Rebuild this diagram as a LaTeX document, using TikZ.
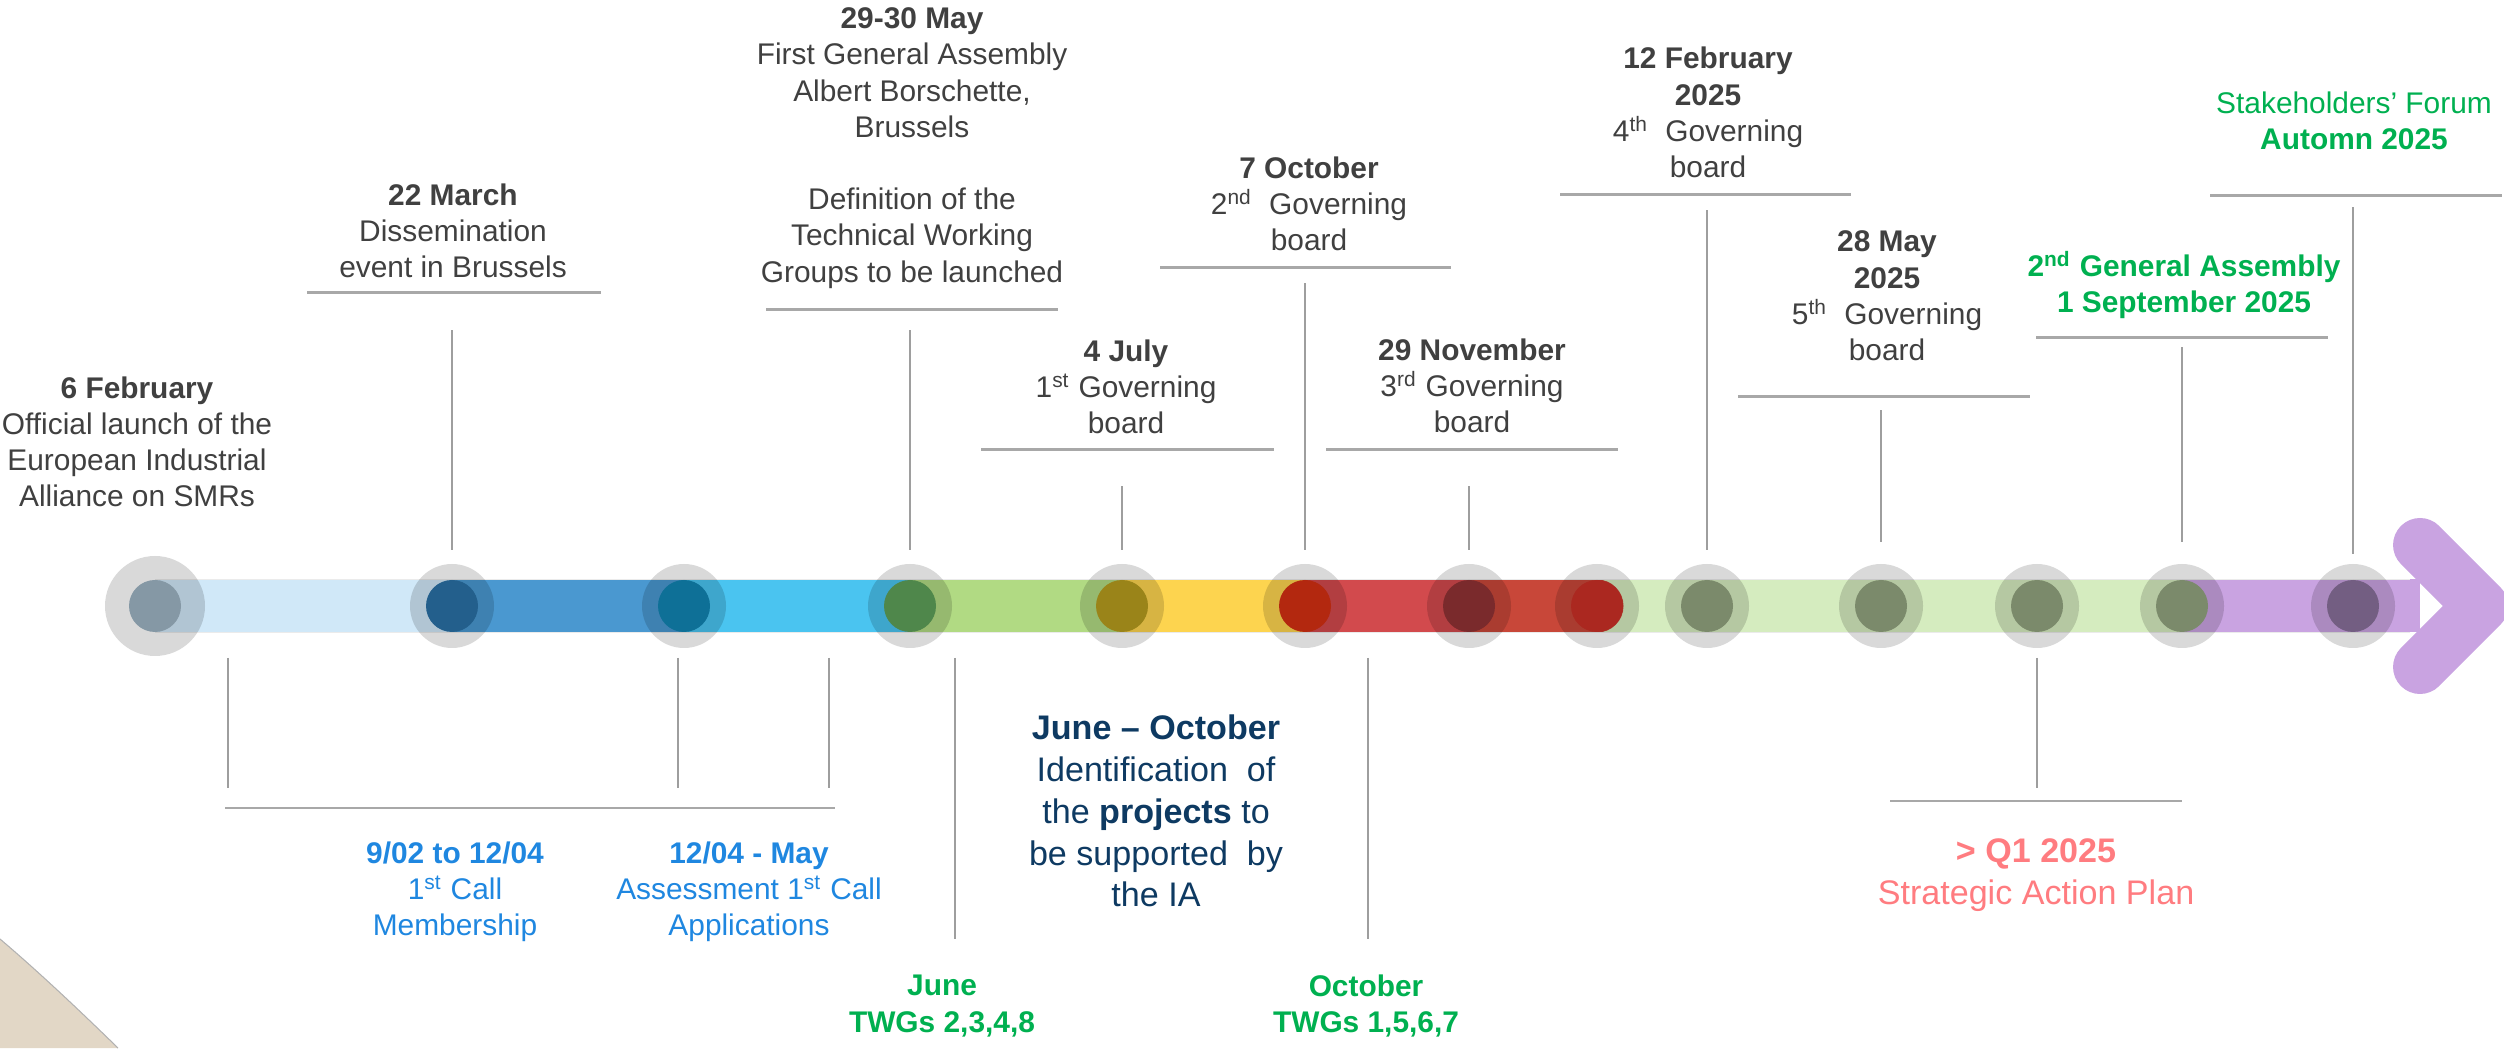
\documentclass[tikz,border=0pt]{standalone}
\usepackage{fontspec}
\setmainfont{Liberation Sans}
\definecolor{txtgray}{HTML}{404040}
\definecolor{rulegray}{HTML}{A8A8A8}
\definecolor{stemgray}{HTML}{9E9E9E}
\definecolor{tlblue}{HTML}{1F87E0}
\definecolor{tlgreen}{HTML}{00B050}
\definecolor{tlnavy}{HTML}{0E3A62}
\definecolor{tlsalmon}{HTML}{FF7C80}
\definecolor{beige}{HTML}{E2D7C6}
\definecolor{bandA}{HTML}{D0E8F8}
\definecolor{bandB}{HTML}{4A98D0}
\definecolor{bandC}{HTML}{4AC4F0}
\definecolor{bandD}{HTML}{B1DA83}
\definecolor{bandE}{HTML}{FDD44F}
\definecolor{bandF}{HTML}{D24A4D}
\definecolor{bandG}{HTML}{C84739}
\definecolor{bandH}{HTML}{D5ECBF}
\definecolor{bandI}{HTML}{C9A3E1}
\definecolor{dotA}{HTML}{8598A5}
\definecolor{dotB}{HTML}{235F8C}
\definecolor{dotC}{HTML}{0E7097}
\definecolor{dotD}{HTML}{4F874B}
\definecolor{dotE}{HTML}{9A8419}
\definecolor{dotF}{HTML}{B3280F}
\definecolor{dotG}{HTML}{7A2A2C}
\definecolor{dotH}{HTML}{AB2820}
\definecolor{dotI}{HTML}{7B8A6B}
\definecolor{dotJ}{HTML}{735E82}
\begin{document}
\begin{tikzpicture}[
  lbl/.style={align=center, inner sep=0pt, text=txtgray, font=\fontsize{8.5}{10.3}\selectfont},
  big/.style={lbl, font=\fontsize{9.7}{11.9}\selectfont},
  uline/.style={draw=rulegray, line width=0.85pt},
  stem/.style={draw=stemgray, line width=0.55pt},
  ring/.style={circle, fill=black, fill opacity=0.15, inner sep=0pt},
]
\useasboundingbox (0,0) rectangle (25.04,10.48);

% corner
\fill[beige] (0,1.09) .. controls (0.4,0.75) and (0.8,0.37) .. (1.18,0) -- (0,0) -- cycle;
\draw[black!30, line width=0.3pt] (0,1.09) .. controls (0.4,0.75) and (0.8,0.37) .. (1.18,0);

% band
\fill[bandA] (1.55,4.155) rectangle (4.52,4.685);
\fill[bandB] (4.52,4.155) rectangle (6.84,4.685);
\fill[bandC] (6.84,4.155) rectangle (9.10,4.685);
\fill[bandD] (9.10,4.155) rectangle (11.22,4.685);
\fill[bandE] (11.22,4.155) rectangle (13.05,4.685);
\fill[bandF] (13.05,4.155) rectangle (14.69,4.685);
\fill[bandH] (15.97,4.155) rectangle (21.82,4.685);
\fill[bandG] (14.69,4.155) -- (15.97,4.155) arc (-90:90:0.265) -- (14.69,4.685) -- cycle;
\fill[bandI] (21.82,4.155) rectangle (24.20,4.685);
\draw[bandI, line width=0.54cm, line cap=round, line join=round] (24.20,5.03) -- (24.81,4.42) -- (24.20,3.81);
\draw[black!8, line width=0.4pt] (1.55,4.685) -- (24.10,4.685) (1.55,4.155) -- (24.10,4.155);

% milestones
\foreach \x/\r/\c [count=\i] in {1.55/1.0cm/dotA, 4.52/0.84cm/dotB, 6.84/0.84cm/dotC,
    9.10/0.84cm/dotD, 11.22/0.84cm/dotE, 13.05/0.84cm/dotF, 14.69/0.84cm/dotG,
    15.97/0.84cm/dotH, 17.07/0.84cm/dotI, 18.81/0.84cm/dotI, 20.37/0.84cm/dotI,
    21.82/0.84cm/dotI, 23.53/0.84cm/dotJ}
{
  \node[ring, minimum size=\r] (m\i) at (\x,4.42) {};
  \fill[\c] (m\i.center) circle (0.26);
}

% above the band
\node[lbl] (e1) at (1.37,6.06) {\textbf{6 February}\\Official launch of the\\European Industrial\\Alliance on SMRs};

\node[lbl] (e2) at (4.53,8.17) {\textbf{22 March}\\Dissemination\\event in Brussels};
\draw[uline] (3.07,7.55) -- (6.01,7.55);
\draw[stem] ([yshift=5.6mm]m2.center) -- +(0,2.20);

\node[lbl] (e4) at (9.12,9.00) {\textbf{29-30 May}\\First General Assembly\\Albert Borschette,\\Brussels\\[10.3pt]Definition of the\\Technical Working\\Groups to be launched};
\draw[uline] (7.66,7.38) -- (10.58,7.38);
\draw[stem] ([yshift=5.6mm]m4.center) -- +(0,2.20);

\node[lbl] (e5) at (11.26,6.61) {\textbf{4 July}\\1\textsuperscript{st} Governing\\board};
\draw[uline] (9.81,5.98) -- (12.74,5.98);
\draw[stem] ([yshift=5.6mm]m5.center) -- +(0,0.64);

\node[lbl] (e6) at (13.09,8.44) {\textbf{7 October}\\2\textsuperscript{nd}~ Governing\\board};
\draw[uline] (11.60,7.80) -- (14.51,7.80);
\draw[stem] ([yshift=5.6mm]m6.center) -- +(0,2.67);

\node[lbl] (e7) at (14.72,6.62) {\textbf{29 November}\\3\textsuperscript{rd} Governing\\board};
\draw[uline] (13.26,5.98) -- (16.18,5.98);
\draw[stem] ([yshift=5.6mm]m7.center) -- +(0,0.64);

\node[lbl] (e9) at (17.08,9.355) {\textbf{12 February}\\\textbf{2025}\\4\textsuperscript{th}~ Governing\\board};
\draw[uline] (15.60,8.53) -- (18.51,8.53);
\draw[stem] ([yshift=5.6mm]m9.center) -- +(0,3.40);

\node[lbl] (e10) at (18.87,7.52) {\textbf{28 May}\\\textbf{2025}\\5\textsuperscript{th}~ Governing\\board};
\draw[uline] (17.38,6.51) -- (20.30,6.51);
\draw[stem] ([yshift=6.4mm]m10.center) -- +(0,1.32);

\node[lbl, text=tlgreen] (e12) at (21.84,7.63) {\textbf{2\textsuperscript{nd} General Assembly}\\\textbf{1 September 2025}};
\draw[uline] (20.36,7.10) -- (23.28,7.10);
\draw[stem] ([yshift=6.4mm]m12.center) -- +(0,1.95);

\node[lbl, text=tlgreen] (e13) at (23.54,9.275) {Stakeholders' Forum\\\textbf{Automn 2025}};
\draw[uline] (22.10,8.52) -- (25.02,8.52);
\draw[stem] ([yshift=5.2mm]m13.center) -- +(0,3.47);

% below the band
\draw[stem] (2.28,3.90) -- (2.28,2.60);
\draw[stem] (6.78,3.90) -- (6.78,2.60);
\draw[stem] (8.29,3.90) -- (8.29,2.60);
\draw[uline] (2.25,2.40) -- (8.35,2.40);
\node[lbl, text=tlblue] (p1) at (4.55,1.565) {\textbf{9/02 to 12/04}\\1\textsuperscript{st} Call\\Membership};
\node[lbl, text=tlblue] (p2) at (7.49,1.565) {\textbf{12/04 - May}\\Assessment 1\textsuperscript{st} Call\\Applications};

\draw[stem] (9.55,3.90) -- (9.55,1.09);
\draw[stem] (13.68,3.90) -- (13.68,1.09);
\node[big, text=tlnavy] (p3) at (11.56,2.37) {\textbf{June -- October}\\Identification~ of\\the \textbf{projects} to\\be supported~ by\\the IA};
\node[lbl, text=tlgreen] (p4) at (9.42,0.42) {\textbf{June}\\\textbf{TWGs 2,3,4,8}};
\node[lbl, text=tlgreen] (p5) at (13.66,0.42) {\textbf{October}\\\textbf{TWGs 1,5,6,7}};

\draw[stem] ([yshift=-5.2mm]m11.center) -- +(0,-1.30);
\draw[uline] (18.90,2.47) -- (21.82,2.47);
\node[big, text=tlsalmon] (p6) at (20.36,1.725) {\textbf{> Q1 2025}\\Strategic Action Plan};
\end{tikzpicture}
\end{document}
